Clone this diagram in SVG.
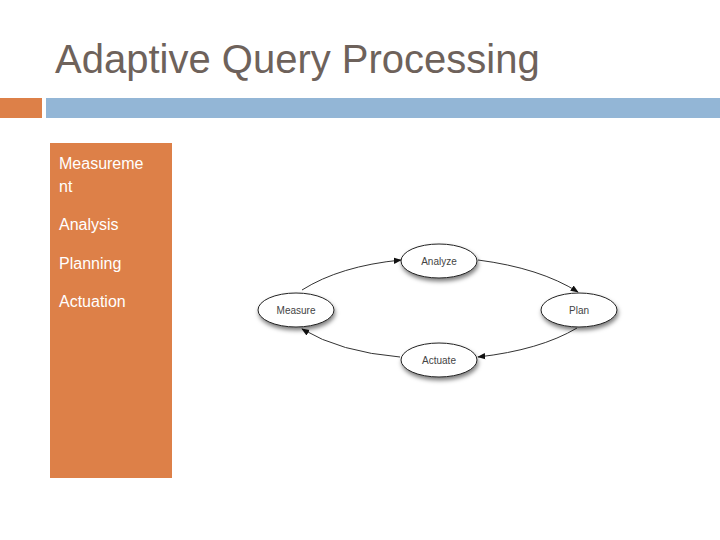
<svg xmlns="http://www.w3.org/2000/svg" width="720" height="540" viewBox="0 0 720 540">
<defs>
<marker id="ah" viewBox="0 0 10 10" refX="9" refY="5" markerWidth="8" markerHeight="8" markerUnits="userSpaceOnUse" orient="auto"><path d="M0,1 L10,5 L0,9 z" fill="#111"/></marker>
<filter id="sh" x="-20%" y="-20%" width="150%" height="170%"><feDropShadow dx="1" dy="3" stdDeviation="2" flood-color="#000" flood-opacity="0.5"/></filter>
</defs>
<style>
.n{fill:#fff;stroke:#222;stroke-width:1;filter:url(#sh)}
.nt{font-family:"Liberation Sans",Arial,sans-serif;font-size:10px;fill:#444;text-anchor:middle}
.c{fill:none;stroke:#333;stroke-width:1;marker-end:url(#ah)}
.lt{font-family:"Liberation Sans",Arial,sans-serif;font-size:16px;fill:#fff}
</style>
<rect width="720" height="540" fill="#fff"/>
<text x="55" y="73" font-family="Liberation Sans,Arial,sans-serif" font-size="40" fill="#6e625b">Adaptive Query Processing</text>
<rect x="0" y="98" width="42" height="20" fill="#dd8048"/>
<rect x="46" y="98" width="674" height="20" fill="#93b6d6"/>
<g id="list">
<rect x="50" y="143" width="122" height="335" fill="#dd8048"/>
<text class="lt" x="59" y="169">Measureme</text>
<text class="lt" x="59" y="192">nt</text>
<text class="lt" x="59" y="230">Analysis</text>
<text class="lt" x="59" y="269">Planning</text>
<text class="lt" x="59" y="307">Actuation</text>
</g>
<g id="connectors">
<path class="c" d="M302,290 Q340,266 401,260"/>
<path class="c" d="M478,260 Q540,268 578,292"/>
<path class="c" d="M577,328 Q540,350 478,357"/>
<path class="c" d="M400,357 Q340,352 302,329"/>
</g>
<g id="analyze"><ellipse class="n" cx="439" cy="261" rx="38" ry="17"/><text class="nt" x="439" y="265">Analyze</text></g>
<g id="measure"><ellipse class="n" cx="296" cy="310" rx="38" ry="17"/><text class="nt" x="296" y="314">Measure</text></g>
<g id="plan"><ellipse class="n" cx="579" cy="310" rx="38" ry="17"/><text class="nt" x="579" y="314">Plan</text></g>
<g id="actuate"><ellipse class="n" cx="439" cy="360" rx="38" ry="17"/><text class="nt" x="439" y="364">Actuate</text></g>
</svg>
